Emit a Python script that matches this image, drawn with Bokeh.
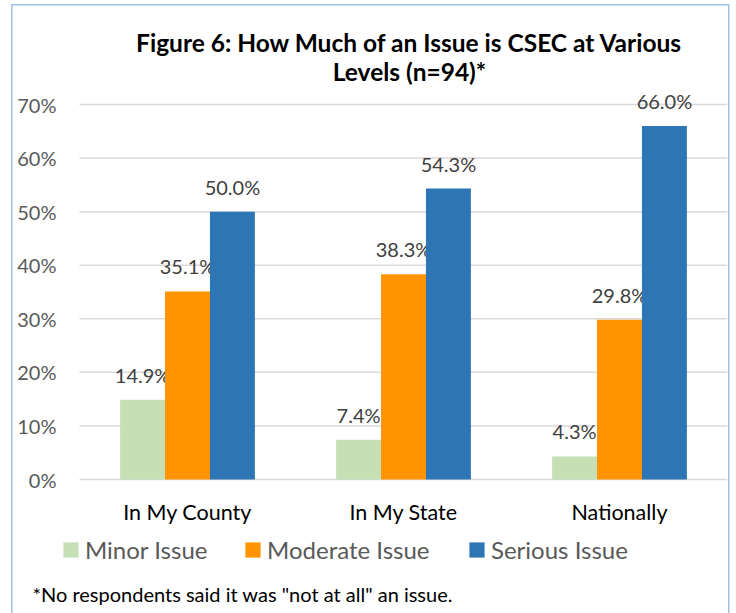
from bokeh.plotting import figure
from bokeh.models import Legend, LegendItem, Label, ColumnDataSource
from bokeh.core.properties import value
from bokeh.transform import dodge
from bokeh.embed import file_html
from bokeh.resources import INLINE

# Survey responses by level (share of respondents)
levels = ["In My County", "In My State", "Nationally"]
minor = [0.149, 0.074, 0.043]
moderate = [0.351, 0.383, 0.298]
serious = [0.500, 0.543, 0.660]
series_names = ["Minor Issue", "Moderate Issue", "Serious Issue"]
y_ticks = [0.0, 0.1, 0.2, 0.3, 0.4, 0.5, 0.6, 0.7]
y_tick_labels = ["0%", "10%", "20%", "30%", "40%", "50%", "60%", "70%"]
title_lines = ["Figure 6: How Much of an Issue is CSEC at Various", "Levels (n=94)*"]
footnote = '*No respondents said it was "not at all" an issue.'

FONT = "Lato"
colors = ["#C5E0B4", "#FF9300", "#2E75B6"]
BORDER = "#9DC3E6"

W, H = 736, 613
# page layout (pixels): plot area spans x 79..727, value 0 sits at y=479, 10% = 53.57px
PLOT_LEFT, PLOT_RIGHT, ZERO_Y, PX_PER_UNIT = 79, 727, 479, 375 / 0.7
PX_PER_CAT = (PLOT_RIGHT - PLOT_LEFT) / len(levels)
X0 = -0.5 - PLOT_LEFT / PX_PER_CAT          # data x at the left page edge
X1 = X0 + PLOT_RIGHT / PX_PER_CAT           # data x at the right end of the plot area
Y0 = -(H - ZERO_Y) / PX_PER_UNIT            # data y at the bottom page edge
Y1 = ZERO_Y / PX_PER_UNIT                   # data y at the top page edge


def px_x(px):
    return X0 + px / PX_PER_CAT


def px_y(py):
    return Y1 - py / PX_PER_UNIT


def edge(x, y, w, h):
    return f"linear-gradient({BORDER},{BORDER}) {x}px {y}px / {w}px {h}px no-repeat"


idx = list(range(len(levels)))
src = ColumnDataSource(dict(
    idx=idx, level=levels, minor=minor, moderate=moderate, serious=serious,
    minor_lbl=[f"{v*100:.1f}%" for v in minor],
    moderate_lbl=[f"{v*100:.1f}%" for v in moderate],
    serious_lbl=[f"{v*100:.1f}%" for v in serious],
))

p = figure(width=W, height=H, x_range=(X0, X1), y_range=(Y0, Y1),
           output_backend="svg", toolbar_location=None,
           x_axis_location=None, y_axis_location=None,
           min_border_left=0, min_border_right=W - PLOT_RIGHT,
           min_border_top=0, min_border_bottom=0)
p.outline_line_color = None
p.background_fill_color = None
p.border_fill_color = None
p.grid.visible = False
# thin light-blue frame around the chart (left, right and top edges)
p.styles = {"background": ", ".join([edge(11, 4, 1.5, H), edge(728, 4, 1.5, H),
                                     edge(11, 4, 718, 1.5)]) + ", white"}

# horizontal gridlines across the plot area only
p.segment(x0=[-0.5] * len(y_ticks), x1=[X1] * len(y_ticks), y0=y_ticks, y1=y_ticks,
          line_color="#D9D9D9", line_width=1.5)

# value axis labels
p.text(x=[X0] * len(y_ticks), y=y_ticks, text=y_tick_labels, x_offset=56,
       text_align="right", text_baseline="middle", text_font=value(FONT),
       text_font_size="20px", text_color="#595959")

# category labels under each group
p.text(x="idx", y=0, text="level", source=src, y_offset=32,
       text_align="center", text_baseline="middle", text_font=value(FONT),
       text_font_size="21.5px", text_color="#000000")

# grouped bars with value labels
bw = 0.208
renderers = []
for key, off, col in zip(["minor", "moderate", "serious"], [-bw, 0, bw], colors):
    r = p.vbar(x=dodge("idx", off), top=key, width=bw, source=src,
               fill_color=col, line_color=None)
    renderers.append(r)
    p.text(x=dodge("idx", off), y=key, text=key + "_lbl", source=src,
           text_align="center", text_baseline="middle", y_offset=-25,
           text_font=value(FONT), text_font_size="20px", text_color="#404040")

# legend row
for name, r, xloc in zip(series_names, renderers, [61, 243, 467]):
    p.add_layout(Legend(items=[LegendItem(label=name, renderers=[r])],
                        location=(xloc, 49), padding=0, margin=0,
                        border_line_color=None, background_fill_alpha=0,
                        glyph_width=19, glyph_height=19, label_standoff=5,
                        label_text_font=FONT, label_text_font_size="24px",
                        label_text_color="#595959"), "center")

# title and footnote
for line, py in zip(title_lines, [42, 71]):
    p.add_layout(Label(x=px_x(409), y=px_y(py), text=line, text_align="center",
                       text_baseline="middle", text_font=FONT, text_font_style="bold",
                       text_font_size="24.5px", text_color="#000000"))
p.add_layout(Label(x=px_x(32), y=px_y(593), text=footnote, text_align="left",
                   text_baseline="middle", text_font=FONT, text_font_size="20px",
                   text_color="#000000"))

open("out.html", "w").write(file_html(p, INLINE))
